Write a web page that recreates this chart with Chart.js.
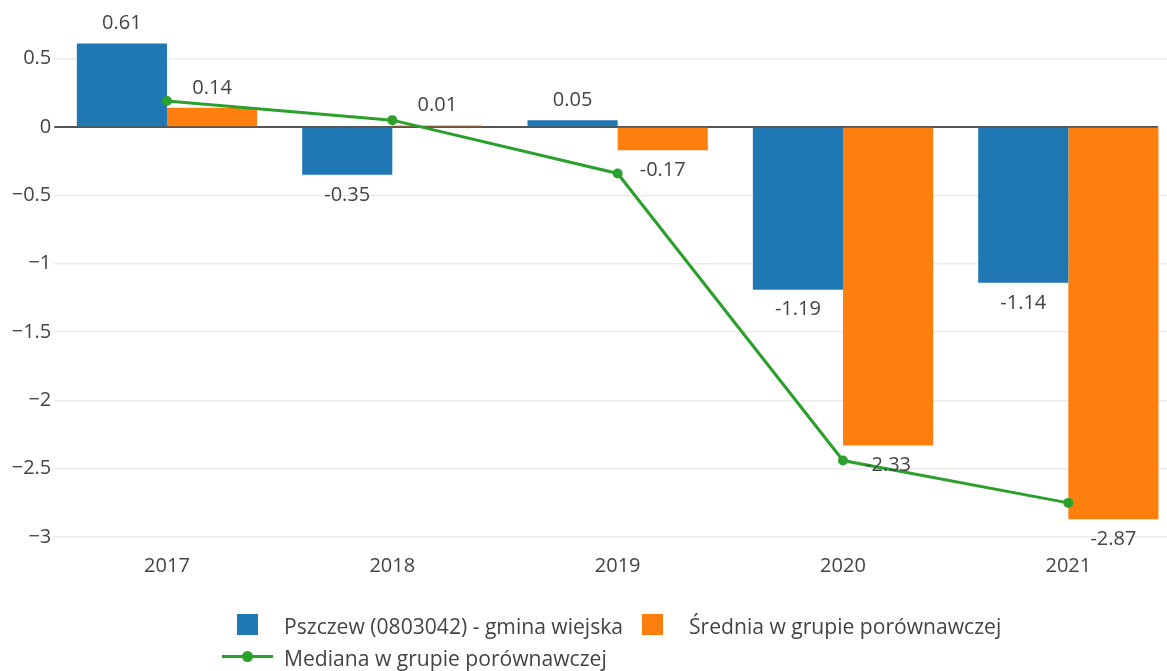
<!DOCTYPE html>
<html>
<head>
<meta charset="utf-8">
<script src="https://cdn.jsdelivr.net/npm/chart.js@4.4.1/dist/chart.umd.min.js"></script>
<style>
  html, body { margin: 0; padding: 0; background: #fff; overflow: hidden; width: 1167px; height: 671px; }
  #wrap { position: relative; width: 1167px; height: 671px; overflow: hidden; }
  canvas { position: absolute; left: 0; top: 0; }
  #legend { position: absolute; left: 218px; top: 609px; width: 820px; display: flex; flex-wrap: wrap;
            font-family: "Open Sans", sans-serif; font-size: 21.1px; color: #444; }
  .item { display: flex; align-items: center; height: 32px; white-space: nowrap; }
  .sym { position: relative; width: 66px; height: 32px; flex: none; }
  .sq { position: absolute; left: 19px; top: 5px; width: 21px; height: 21px; }
  .ln { position: absolute; left: 4px; top: 14px; width: 51px; height: 3px; }
  .dot { position: absolute; left: 24px; top: 10px; width: 11px; height: 11px; border-radius: 50%; }
</style>
</head>
<body>
<div id="wrap">
  <canvas id="c" width="1200" height="671" style="width:1200px;height:671px"></canvas>
  <div id="legend"></div>
</div>
<script>
const categories = ['2017', '2018', '2019', '2020', '2021'];
const pszczew = [0.61, -0.35, 0.05, -1.19, -1.14];
const srednia = [0.14, 0.01, -0.17, -2.33, -2.87];
const mediana = [0.19, 0.05, -0.34, -2.44, -2.75];
const yTicks = [0.5, 0, -0.5, -1, -1.5, -2, -2.5, -3];
const seriesNames = ['Pszczew (0803042) - gmina wiejska', 'Średnia w grupie porównawczej', 'Mediana w grupie porównawczej'];

const FONT = '"Open Sans", sans-serif';
const TXT = '#444';

const barLabels = {
  id: 'barLabels',
  afterDatasetsDraw(chart) {
    const ctx = chart.ctx;
    ctx.save();
    ctx.font = '20px ' + FONT;
    ctx.fillStyle = TXT;
    ctx.textAlign = 'center';
    ctx.textBaseline = 'middle';
    chart.data.datasets.forEach((ds, di) => {
      if (ds.type !== 'bar') return;
      const meta = chart.getDatasetMeta(di);
      meta.data.forEach((el, i) => {
        const v = ds.data[i];
        const y = v >= 0 ? el.y - 20 : el.y + 20;
        ctx.fillText(String(v), el.x, y);
      });
    });
    ctx.restore();
  }
};

const zeroLine = {
  id: 'zeroLine',
  beforeDatasetsDraw(chart) {
    const ctx = chart.ctx;
    const y = chart.scales.y.getPixelForValue(0);
    ctx.save();
    ctx.strokeStyle = '#555';
    ctx.lineWidth = 2;
    ctx.beginPath();
    ctx.moveTo(chart.chartArea.left, y);
    ctx.lineTo(1158, y);
    ctx.stroke();
    ctx.restore();
  }
};

const chart = new Chart(document.getElementById('c'), {
  data: {
    labels: categories,
    datasets: [
      { type: 'bar', label: seriesNames[0], data: pszczew, backgroundColor: '#1f77b4', order: 2,
        categoryPercentage: 0.8, barPercentage: 1.0 },
      { type: 'bar', label: seriesNames[1], data: srednia, backgroundColor: '#ff7f0e', order: 2,
        categoryPercentage: 0.8, barPercentage: 1.0 },
      { type: 'line', label: seriesNames[2], data: mediana, borderColor: '#2ca02c', backgroundColor: '#2ca02c',
        borderWidth: 3, pointRadius: 5, pointBackgroundColor: '#2ca02c', pointBorderWidth: 0, tension: 0, order: 1 }
    ]
  },
  options: {
    responsive: false,
    animation: false,
    devicePixelRatio: 1,
    layout: { padding: { top: 10.8, right: 19, bottom: 0, left: 0 } },
    plugins: { legend: { display: false }, tooltip: { enabled: false } },
    scales: {
      x: {
        grid: { display: false, drawTicks: false },
        border: { display: false },
        ticks: { font: { family: FONT, size: 20 }, color: TXT, padding: 6, maxRotation: 0 },
        afterFit(scale) { scale.height = 123; scale.paddingLeft = 0; scale.paddingRight = 0; }
      },
      y: {
        min: -3.08, max: 0.85,
        grid: { color: (c) => c.tick && c.tick.value === 0 ? 'rgba(0,0,0,0)' : '#ebebeb', lineWidth: 1.5, drawTicks: false },
        border: { display: false },
        ticks: {
          font: { family: FONT, size: 20 }, color: TXT, padding: 3,
          callback: (v) => (v < 0 ? '\u2212' + String(Math.abs(v)) : String(v))
        },
        afterBuildTicks(scale) { scale.ticks = yTicks.map(v => ({ value: v })); },
        afterFit(scale) { scale.width = 54.3; scale.paddingTop = 0; scale.paddingBottom = 0; }
      }
    }
  },
  plugins: [barLabels, zeroLine]
});

// HTML legend built from the chart datasets
const leg = document.getElementById('legend');
chart.data.datasets.forEach(ds => {
  const item = document.createElement('div');
  item.className = 'item';
  const sym = document.createElement('div');
  sym.className = 'sym';
  if (ds.type === 'bar') {
    const sq = document.createElement('div');
    sq.className = 'sq';
    sq.style.background = ds.backgroundColor;
    sym.appendChild(sq);
  } else {
    const ln = document.createElement('div');
    ln.className = 'ln';
    ln.style.background = ds.borderColor;
    const dot = document.createElement('div');
    dot.className = 'dot';
    dot.style.background = ds.borderColor;
    sym.appendChild(ln);
    sym.appendChild(dot);
  }
  const t = document.createElement('span');
  t.textContent = ds.label;
  item.appendChild(sym);
  item.appendChild(t);
  leg.appendChild(item);
});
</script>
</body>
</html>
